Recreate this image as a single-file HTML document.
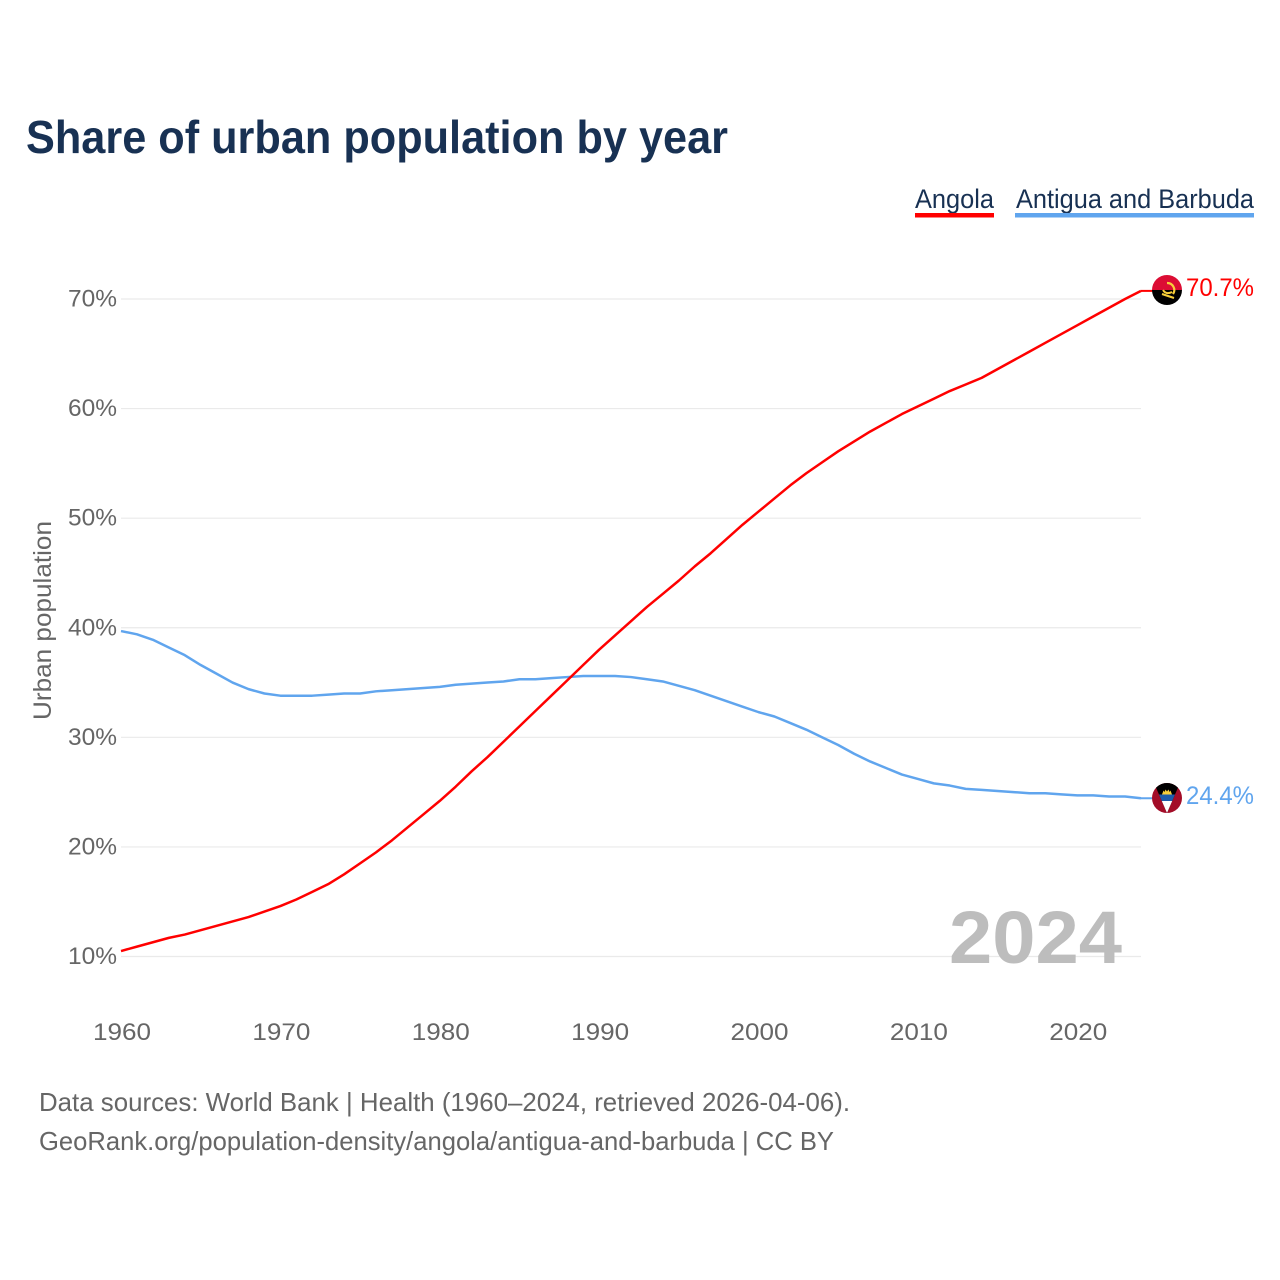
<!DOCTYPE html>
<html lang="en">
<head>
<meta charset="utf-8">
<title>Share of urban population by year</title>
<style>
  html, body { margin: 0; padding: 0; background: #fff; }
  svg { display: block; }
  text { font-family: "Liberation Sans", "DejaVu Sans", sans-serif; }
</style>
</head>
<body>
<svg id="chart" xmlns="http://www.w3.org/2000/svg" width="1280" height="1280" viewBox="0 0 1280 1280">
  <defs>
    <clipPath id="clip-angola"><circle cx="1167" cy="290" r="15"/></clipPath>
    <clipPath id="clip-antigua"><circle cx="1167" cy="798" r="15"/></clipPath>
  </defs>
  <rect width="1280" height="1280" fill="#fff"/>
  <text x="26" y="153" font-size="46" font-weight="700" fill="#183153" textLength="702" lengthAdjust="spacingAndGlyphs">Share of urban population by year</text>

  <g>
    <text x="915" y="208" font-size="27" fill="#183153" textLength="79" lengthAdjust="spacingAndGlyphs">Angola</text>
    <rect x="915" y="213" width="79" height="4.5" fill="#ff0000"/>
  </g>
  <g>
    <text x="1016" y="208" font-size="27" fill="#183153" textLength="238" lengthAdjust="spacingAndGlyphs">Antigua and Barbuda</text>
    <rect x="1015" y="213" width="239" height="4.5" fill="#60a5ee"/>
  </g>

  <g id="grid"></g>
  <g id="yticks"></g>
  <g id="xticks"></g>

  <text transform="translate(51,720) rotate(-90)" font-size="25" fill="#666" textLength="199" lengthAdjust="spacingAndGlyphs">Urban population</text>

  <text x="949" y="963" font-size="74" font-weight="700" fill="#bdbdbd" textLength="173" lengthAdjust="spacingAndGlyphs">2024</text>

  <g id="series"></g>

  <line id="conn-a" x1="1141" x2="1153" stroke="#ff0000" stroke-width="2"/>
  <line id="conn-b" x1="1141" x2="1153" stroke="#60a5ee" stroke-width="2"/>

  <g clip-path="url(#clip-angola)">
    <rect x="1152" y="275" width="30" height="15" fill="#dc0d34"/>
    <rect x="1152" y="290" width="30" height="15" fill="#000"/>
    <path d="M1167 283a7 7 0 0 1 6 11" fill="none" stroke="#f7cf3a" stroke-width="2.200"/>
    <path d="M1162 294l12 4M1163 290q3 5 9 2" fill="none" stroke="#f7cf3a" stroke-width="2"/>
  </g>
  <g clip-path="url(#clip-antigua)">
    <rect x="1152" y="783" width="30" height="30" fill="#a30d28"/>
    <path d="M1154 783H1180L1167 813Z" fill="#000"/>
    <path d="M1159 794.500H1175L1172.200 801H1161.800Z" fill="#1c5cab"/>
    <path d="M1161.800 801H1172.200L1167 813Z" fill="#fff"/>
    <path d="M1162 794.500l1.500-4 1 1.500 1-2.500 1.500 2 1.500-2 1 2.500 1-1.500 1.500 4Z" fill="#f7cf3a"/>
  </g>

  <text x="1186" y="296" font-size="25" fill="#ff0000" textLength="68" lengthAdjust="spacingAndGlyphs">70.7%</text>
  <text x="1186" y="804" font-size="25" fill="#60a5ee" textLength="68" lengthAdjust="spacingAndGlyphs">24.4%</text>

  <text x="39" y="1111" font-size="26" fill="#666" textLength="811" lengthAdjust="spacingAndGlyphs">Data sources: World Bank | Health (1960–2024, retrieved 2026-04-06).</text>
  <text x="39" y="1150" font-size="26" fill="#666" textLength="795" lengthAdjust="spacingAndGlyphs">GeoRank.org/population-density/angola/antigua-and-barbuda | CC BY</text>
</svg>
<script>
const years = [1960,1961,1962,1963,1964,1965,1966,1967,1968,1969,1970,1971,1972,1973,1974,1975,1976,1977,1978,1979,1980,1981,1982,1983,1984,1985,1986,1987,1988,1989,1990,1991,1992,1993,1994,1995,1996,1997,1998,1999,2000,2001,2002,2003,2004,2005,2006,2007,2008,2009,2010,2011,2012,2013,2014,2015,2016,2017,2018,2019,2020,2021,2022,2023,2024];
const angola = [10.5,10.9,11.3,11.7,12.0,12.4,12.8,13.2,13.6,14.1,14.6,15.2,15.9,16.6,17.5,18.5,19.5,20.6,21.8,23.0,24.2,25.5,26.9,28.2,29.6,31.0,32.4,33.8,35.2,36.6,38.0,39.3,40.6,41.9,43.1,44.3,45.6,46.8,48.1,49.4,50.6,51.8,53.0,54.1,55.1,56.1,57.0,57.9,58.7,59.5,60.2,60.9,61.6,62.2,62.8,63.6,64.4,65.2,66.0,66.8,67.6,68.4,69.2,70.0,70.74];
const antigua = [39.7,39.4,38.9,38.2,37.5,36.6,35.8,35.0,34.4,34.0,33.8,33.8,33.8,33.9,34.0,34.0,34.2,34.3,34.4,34.5,34.6,34.8,34.9,35.0,35.1,35.3,35.3,35.4,35.5,35.6,35.6,35.6,35.5,35.3,35.1,34.7,34.3,33.8,33.3,32.8,32.3,31.9,31.3,30.7,30.0,29.3,28.5,27.8,27.2,26.6,26.2,25.8,25.6,25.3,25.2,25.1,25.0,24.9,24.9,24.8,24.7,24.7,24.6,24.6,24.44];
const yTickValues = [10,20,30,40,50,60,70];
const yTickLabels = ["10%","20%","30%","40%","50%","60%","70%"];
const xTickValues = [1960,1970,1980,1990,2000,2010,2020];
const xTickLabels = ["1960","1970","1980","1990","2000","2010","2020"];

const NS = "http://www.w3.org/2000/svg";
function xScale(year) { return 121 + (year - 1960) * (1141 - 121) / 64; }
function yScale(value) { return 956.5 - (value - 10) * (956.5 - 299) / 60; }

const grid = document.getElementById("grid");
const yticks = document.getElementById("yticks");
const xticks = document.getElementById("xticks");
const seriesGroup = document.getElementById("series");

yTickValues.forEach(function (v, i) {
  const line = document.createElementNS(NS, "line");
  
  
  line.setAttribute("x1", 121);
  line.setAttribute("x2", 1141);
  line.setAttribute("y1", yScale(v));
  line.setAttribute("y2", yScale(v));
  line.setAttribute("stroke", "#eaeaea");
  line.setAttribute("stroke-width", "1.200");
  grid.appendChild(line);

  const label = document.createElementNS(NS, "text");
  
  
  label.setAttribute("x", 117);
  label.setAttribute("y", yScale(v) + 7.5);
  label.setAttribute("text-anchor", "end");
  label.setAttribute("font-size", "24");
  label.setAttribute("fill", "#666");
  label.setAttribute("textLength", "49");
  label.setAttribute("lengthAdjust", "spacingAndGlyphs");
  label.textContent = yTickLabels[i];
  yticks.appendChild(label);
});

xTickValues.forEach(function (v, i) {
  const label = document.createElementNS(NS, "text");
  
  
  label.setAttribute("x", xScale(v) + 1);
  label.setAttribute("y", 1040);
  label.setAttribute("text-anchor", "middle");
  label.setAttribute("font-size", "24");
  label.setAttribute("fill", "#666");
  label.setAttribute("textLength", "58");
  label.setAttribute("lengthAdjust", "spacingAndGlyphs");
  label.textContent = xTickLabels[i];
  xticks.appendChild(label);
});

function drawSeries(values, color, name) {
  const path = document.createElementNS(NS, "path");
  
  
  const d = values.map(function (v, i) {
    return (i ? "L" : "M") + xScale(years[i]).toFixed(2) + " " + yScale(v).toFixed(2);
  }).join("");
  path.setAttribute("d", d);
  path.setAttribute("fill", "none");
  path.setAttribute("stroke", color);
  path.setAttribute("stroke-width", "2.500");
  path.setAttribute("stroke-linejoin", "round");
  seriesGroup.appendChild(path);
}
drawSeries(antigua, "#60a5ee", "line-antigua-and-barbuda");
drawSeries(angola, "#ff0000", "line-angola");

const connA = document.getElementById("conn-a");
const connB = document.getElementById("conn-b");
const lastA = yScale(angola[angola.length - 1]);
const lastB = yScale(antigua[antigua.length - 1]);
connA.setAttribute("y1", lastA);
connA.setAttribute("y2", lastA);
connB.setAttribute("y1", lastB);
connB.setAttribute("y2", lastB);
</script>
</body>
</html>
